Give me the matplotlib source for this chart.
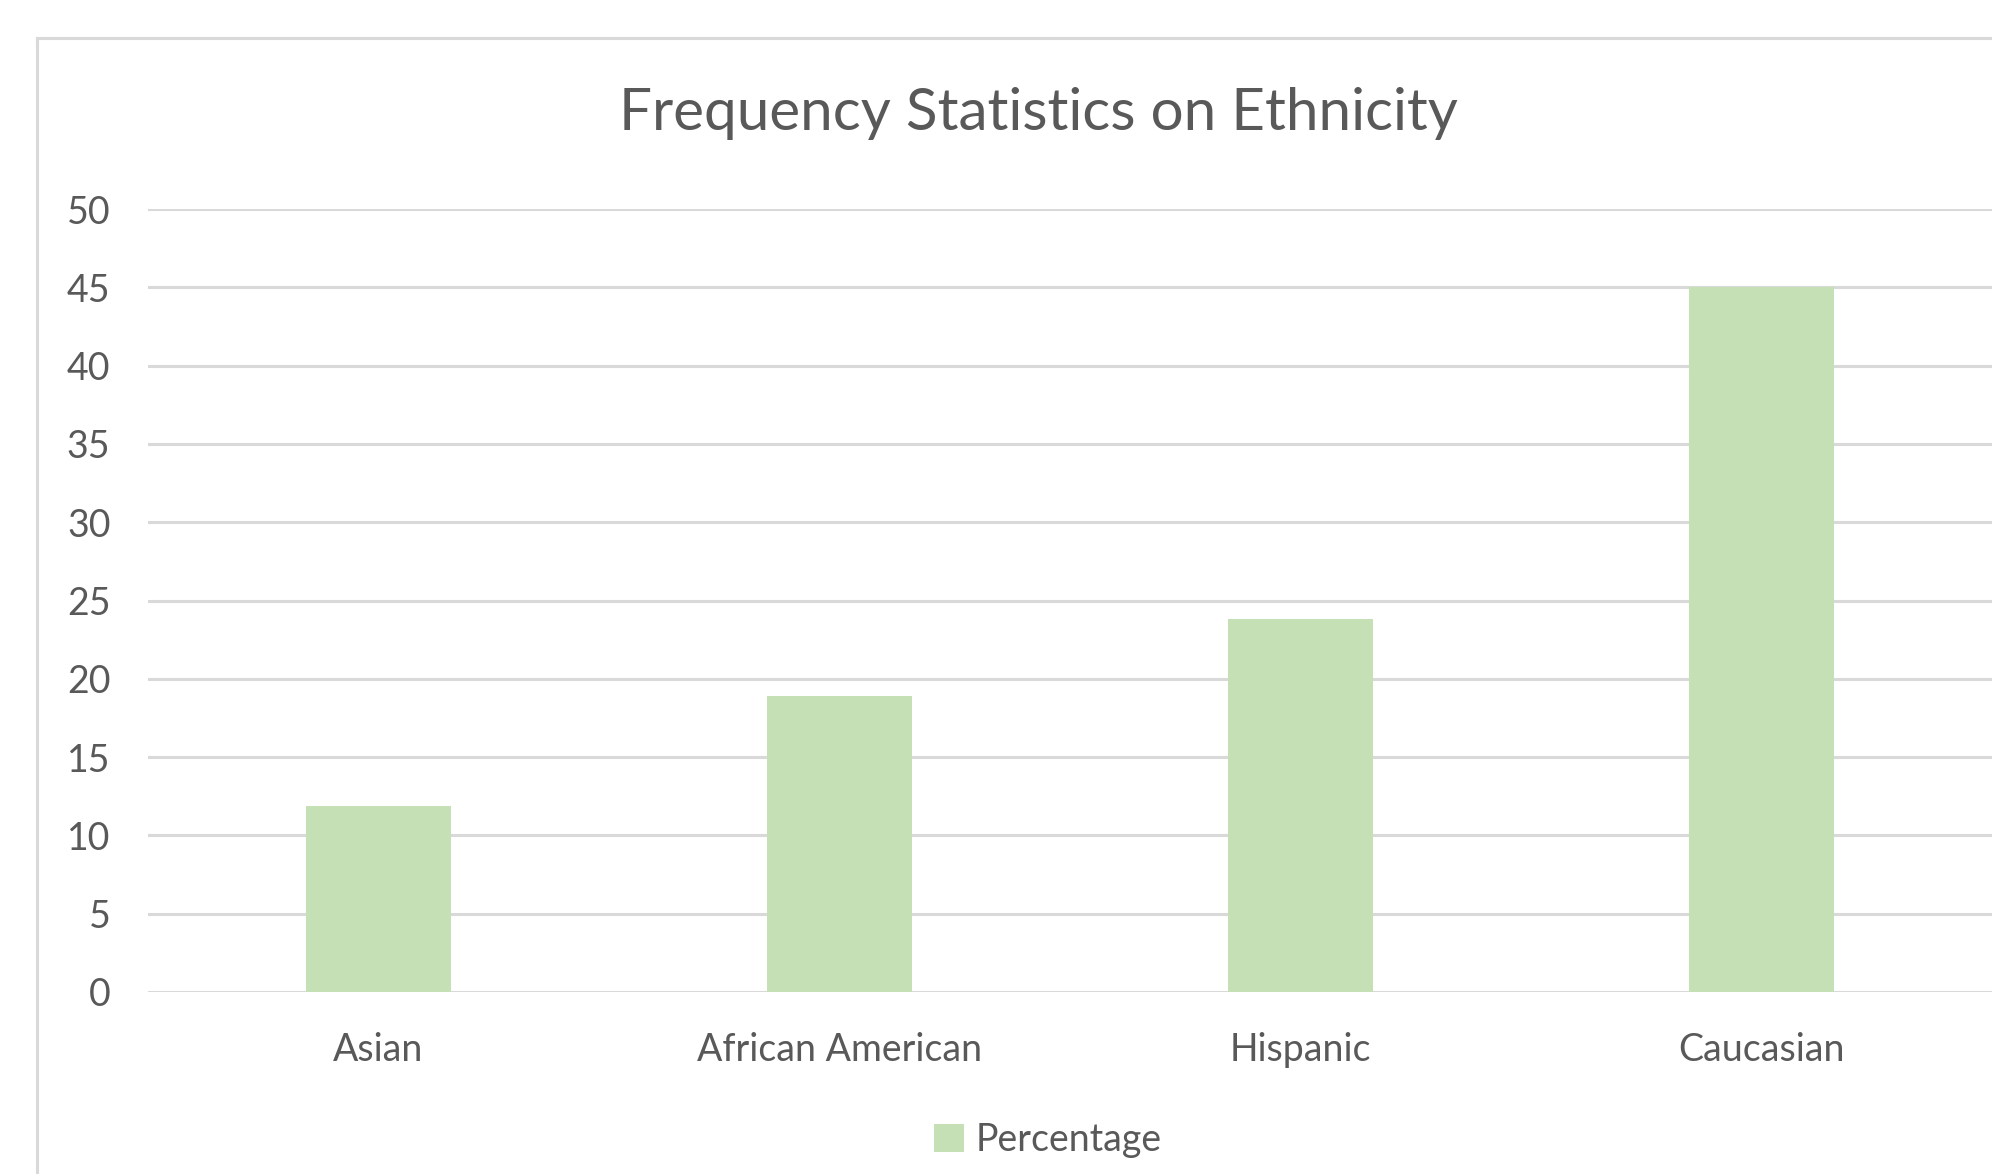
import matplotlib
matplotlib.use('Agg')
import matplotlib.pyplot as plt
from matplotlib.lines import Line2D
from matplotlib.patches import Patch

plt.rcParams['font.family'] = ['Lato', 'DejaVu Sans']

categories = ['Asian', 'African American', 'Hispanic', 'Caucasian']
percentage = [11.9, 18.9, 23.8, 45.0]
yticks = [0, 5, 10, 15, 20, 25, 30, 35, 40, 45, 50]

bar_color = '#c5e0b4'
text_color = '#595959'
grid_color = '#d9d9d9'

W, H = 1992, 1174
fig = plt.figure(figsize=(W / 100, H / 100), dpi=100)
ax = fig.add_axes([148 / W, 1 - 992 / H, (W - 148) / W, (992 - 209) / H])

x = range(len(categories))
ax.bar(x, percentage, width=0.313, color=bar_color, zorder=3, label='Percentage')

ax.set_xlim(-0.5, 3.5)
ax.set_ylim(0, 50)
ax.set_yticks(yticks)
ax.set_xticks(list(x))
ax.set_xticklabels(categories)
ax.grid(axis='y', color=grid_color, linewidth=2.2, zorder=0)
ax.tick_params(axis='both', length=0, labelsize=27, colors=text_color)
ax.tick_params(axis='y', pad=27)
ax.tick_params(axis='x', pad=29)
for s in ax.spines.values():
    s.set_visible(False)

# outer chart frame (cut off on the right and bottom)
fx, fy = 37 / W, 1 - 38 / H
fig.add_artist(Line2D([fx, fx], [0, fy], color=grid_color, linewidth=2.2))
fig.add_artist(Line2D([fx, 1], [fy, fy], color=grid_color, linewidth=2.2))

fig.text(1038 / W, 1 - 114 / H, 'Frequency Statistics on Ethnicity',
         ha='center', va='center', fontsize=42, color=text_color)

handles = [Patch(facecolor=bar_color, edgecolor='none', label='Percentage')]
fig.legend(handles=handles, loc='center', bbox_to_anchor=(1048 / W, 1 - 1140 / H),
           frameon=False, fontsize=27, labelcolor=text_color,
           handlelength=0.8, handleheight=0.8, handletextpad=0.3)

fig.savefig('out.png', dpi=100, facecolor='white')
